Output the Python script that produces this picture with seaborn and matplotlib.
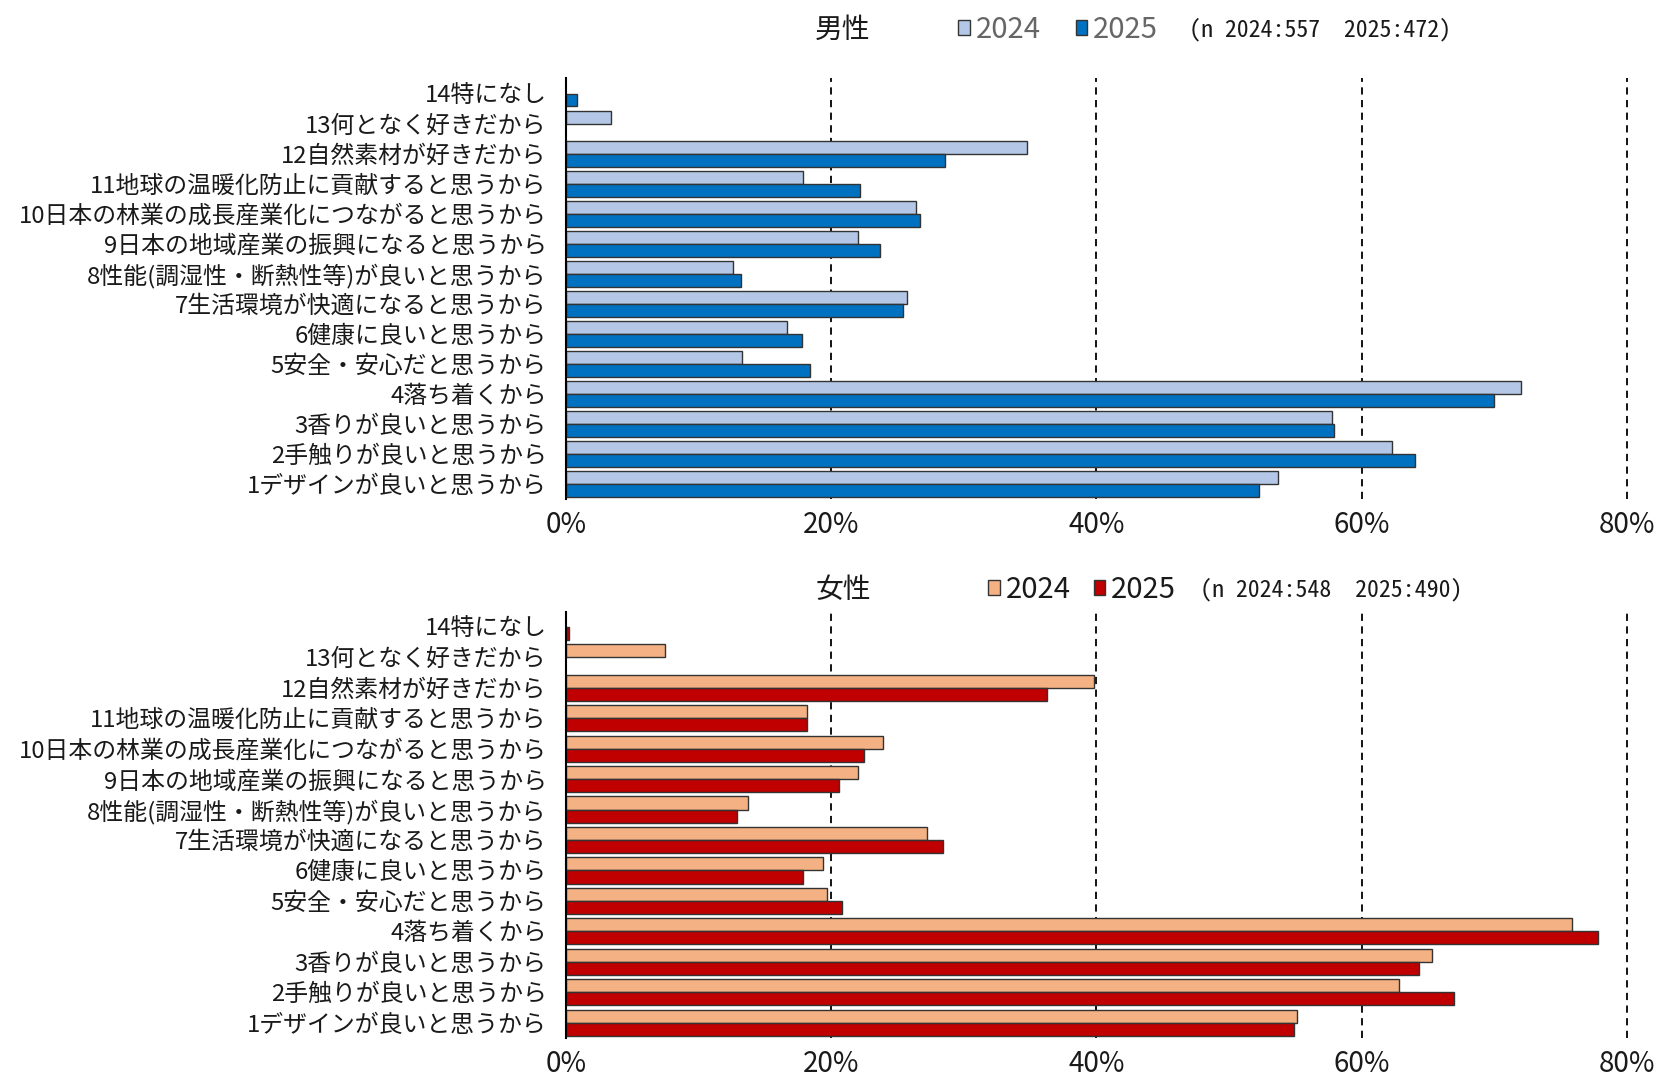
import matplotlib
matplotlib.use("Agg")
import matplotlib.pyplot as plt
import seaborn as sns
import pandas as pd
import numpy as np
from matplotlib.patches import Patch

# Reason categories (item 1 at the bottom, item 14 at the top)
reasons = [
    "1デザインが良いと思うから",
    "2手触りが良いと思うから",
    "3香りが良いと思うから",
    "4落ち着くから",
    "5安全・安心だと思うから",
    "6健康に良いと思うから",
    "7生活環境が快適になると思うから",
    "8性能(調湿性・断熱性等)が良いと思うから",
    "9日本の地域産業の振興になると思うから",
    "10日本の林業の成長産業化につながると思うから",
    "11地球の温暖化防止に貢献すると思うから",
    "12自然素材が好きだから",
    "13何となく好きだから",
    "14特になし",
]
years = ["2024", "2025"]

# Share of respondents (%) — men
male_2024 = [53.7, 62.3, 57.8, 72.0, 13.3, 16.7, 25.7, 12.6, 22.0, 26.4, 17.9, 34.8, 3.4, np.nan]
male_2025 = [52.3, 64.0, 57.9, 70.0, 18.4, 17.8, 25.4, 13.2, 23.7, 26.7, 22.2, 28.6, np.nan, 0.8]

# Share of respondents (%) — women
female_2024 = [55.1, 62.8, 65.3, 75.9, 19.7, 19.4, 27.2, 13.7, 22.0, 23.9, 18.2, 39.8, 7.5, np.nan]
female_2025 = [54.9, 67.0, 64.3, 77.8, 20.8, 17.9, 28.4, 12.9, 20.6, 22.5, 18.2, 36.3, np.nan, 0.2]

male_n = "(n 2024:557  2025:472)"
female_n = "(n 2024:548  2025:490)"

male_colors = {"2024": "#B4C7E7", "2025": "#0070C0"}
female_colors = {"2024": "#F4B183", "2025": "#C00000"}

sns.set_style("white")
plt.rcParams["font.family"] = ["Noto Sans CJK JP", "DejaVu Sans"]

order = reasons[::-1]


def long_frame(v24, v25):
    rows = []
    for r, a, b in zip(reasons, v24, v25):
        rows.append({"reason": r, "year": "2024", "value": a})
        rows.append({"reason": r, "year": "2025", "value": b})
    return pd.DataFrame(rows).dropna()


fig = plt.figure(figsize=(16.65, 10.81), dpi=100)
W, H = 1665, 1081
left = 566 / W
right_px = 566 + 80.5 * 13.26
ax_m = fig.add_axes([left, 0.5381, right_px / W - left, 0.9274 - 0.5381])
ax_f = fig.add_axes([left, 0.0399, right_px / W - left, 0.4342 - 0.0399])


def draw_panel(ax, df, palette):
    sns.barplot(data=df, y="reason", x="value", hue="year", order=order,
                hue_order=years, palette=palette, orient="h", width=0.86,
                errorbar=None, legend=False, ax=ax,
                edgecolor="#333333", linewidth=1.0, saturation=1)
    ax.set_xlim(0, 80.5)
    ax.set_xticks([0, 20, 40, 60, 80])
    ax.set_xticklabels([f"{t}%" for t in [0, 20, 40, 60, 80]])
    ax.set_xlabel("")
    ax.set_ylabel("")
    ax.set_axisbelow(True)
    ax.xaxis.grid(True, color="black", linestyle=(0, (4, 3)), linewidth=1.3)
    ax.yaxis.grid(False)
    for s in ["top", "right", "bottom"]:
        ax.spines[s].set_visible(False)
    ax.spines["left"].set_color("black")
    ax.spines["left"].set_linewidth(1.5)
    ax.tick_params(axis="y", length=0, pad=14, labelsize=17.2, labelcolor="#1a1a1a")
    ax.tick_params(axis="x", length=0, pad=8, labelsize=20, labelcolor="#1a1a1a")


draw_panel(ax_m, long_frame(male_2024, male_2025), male_colors)
draw_panel(ax_f, long_frame(female_2024, female_2025), female_colors)


def header(title, y, colors, leg_x, text_color, n_text, n_x, colspace):
    fig.text(843 / W, y, title, ha="center", va="center", fontsize=20, color="#1a1a1a")
    handles = [Patch(facecolor=colors[yr], edgecolor="#333333", linewidth=1.0) for yr in years]
    fig.legend(handles, years, loc="center left", bbox_to_anchor=(leg_x / W, y),
               ncol=2, frameon=False, fontsize=21, handlelength=0.4, handleheight=0.4,
               handletextpad=0.2, columnspacing=colspace, borderpad=0, borderaxespad=0,
               labelcolor=text_color)
    fig.text(n_x / W, y, n_text, ha="left", va="center", fontsize=17.2,
             family=["Noto Sans Mono CJK JP", "DejaVu Sans Mono"], color="#1a1a1a")


header("男性", 1 - 30 / H, male_colors, 958, "#666666", male_n, 1189, 1.2)
header("女性", 1 - 590 / H, female_colors, 988, "#1a1a1a", female_n, 1200, 0.8)

fig.savefig("out.png", dpi=100)
